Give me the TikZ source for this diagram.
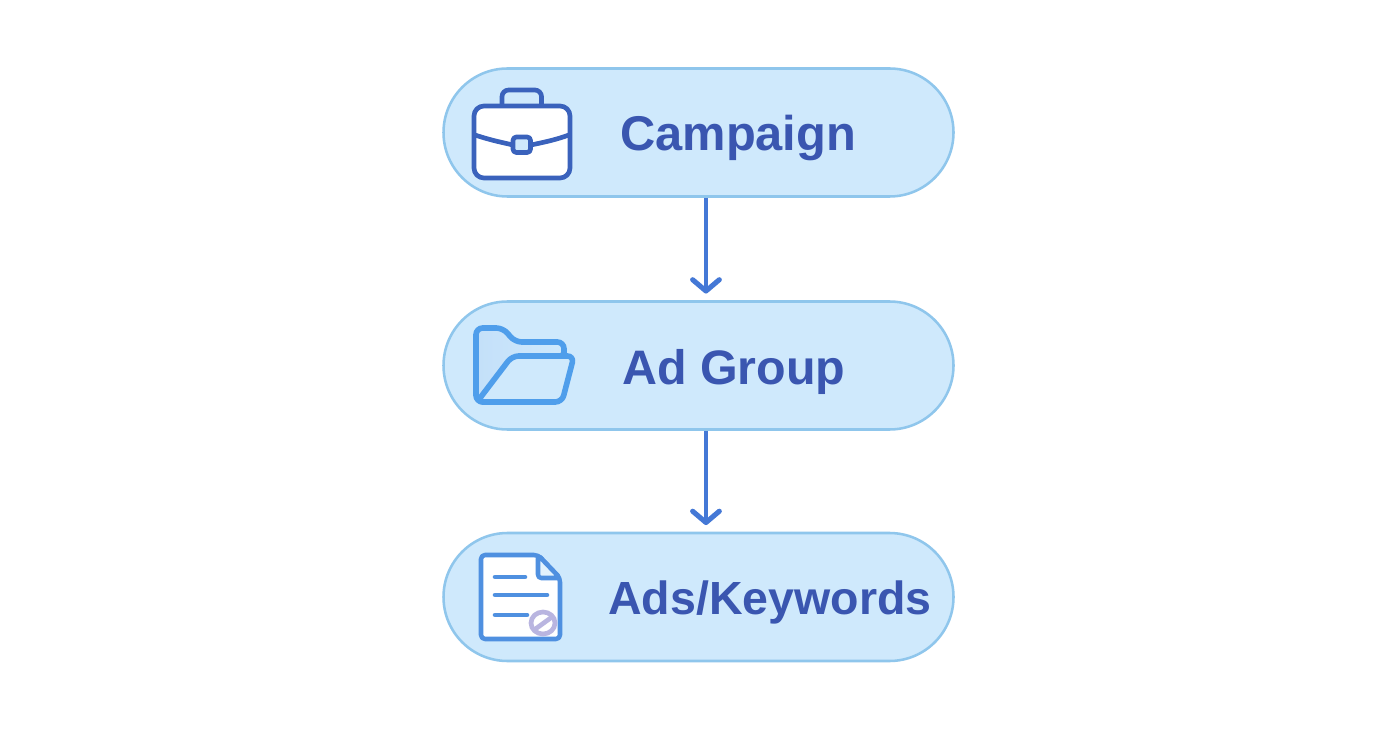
\documentclass[tikz,border=0pt]{standalone}
\usepackage{fontspec}
\setmainfont{Liberation Sans}
\usetikzlibrary{arrows.meta}
\definecolor{pillfill}{HTML}{CFE9FC}
\definecolor{pillline}{HTML}{8FC6EC}
\definecolor{labelcol}{HTML}{3A56B0}
\definecolor{arrowcol}{HTML}{4478D6}
\definecolor{casecol}{HTML}{3A62BC}
\definecolor{foldercol}{HTML}{4F9EEB}
\definecolor{doccol}{HTML}{4F90E0}
\definecolor{clipcol}{HTML}{B9B5E0}
\tikzset{
  pill/.style={draw=pillline,fill=pillfill,line width=1.9pt,rounded corners=48pt,minimum width=382.5pt,minimum height=96pt,inner sep=0pt},
  label/.style={anchor=base west,inner sep=0pt,text=labelcol,font=\bfseries},
  flow/.style={draw=arrowcol,line width=3.6pt,-{Straight Barb[length=8.5pt,width=20pt,line width=3.8pt,round]},shorten >=5pt},
  caseline/.style={draw=casecol,line width=3.5pt,line join=round},
  folderline/.style={draw=foldercol,line width=4.2pt,line join=round},
  docline/.style={draw=doccol,line width=3.4pt,line join=round},
  docrow/.style={draw=doccol,line width=3.4pt,line cap=round},
  clip ring/.style={draw=clipcol,line width=3.5pt}
}
\begin{document}
\begin{tikzpicture}[x=0.75pt,y=-0.75pt]
\useasboundingbox (0,0) rectangle (1392,752);
\fill[white] (0,0) rectangle (1392,752);
\node[pill] (campaign) at (698.5,132.5) {};
\node[pill] (adgroup) at (698.5,365.5) {};
\node[pill] (ads) at (698.5,597) {};
\draw[flow] ([xshift=5.6pt]campaign.south) -- ([xshift=5.6pt]adgroup.north);
\draw[flow] ([xshift=5.6pt]adgroup.south) -- ([xshift=5.6pt]ads.north);
\node[label,font=\bfseries\fontsize{36.6pt}{40pt}\selectfont] (t1) at (620,151) {Campaign};
\node[label,font=\bfseries\fontsize{36.3pt}{40pt}\selectfont] (t2) at (622,384) {Ad Group};
\node[label,font=\bfseries\fontsize{34.9pt}{40pt}\selectfont] (t3) at (608,614) {Ads/Keywords};
% briefcase
\draw[caseline,fill=pillfill,rounded corners=5pt] (502,106) -- (502,90) -- (541.5,90) -- (541.5,106);
\draw[caseline,fill=white,rounded corners=7.5pt] (474,106) rectangle (570,178);
\draw[caseline] (475,135) .. controls (490,140) and (500,142) .. (513,145);
\draw[caseline] (531,145) .. controls (545,142) and (555,140) .. (569,135);
\draw[caseline,fill=pillfill,rounded corners=2.5pt] (513,137) rectangle (530.5,152.5);
% folder
\fill[left color=pillfill!60!foldercol!60!white,right color=pillfill,rounded corners=5pt] (476,328) -- (503,328) -- (515,342) -- (560,342) -- (565,353) -- (512,356) -- (477,400) -- cycle;
\draw[folderline,rounded corners=5pt] (564,356) -- (564,342) -- (515,342) -- (503,328) -- (476,328) -- (476,402) -- (490,402);
\draw[folderline,fill=pillfill,rounded corners=5pt] (477,402) -- (512,356) -- (574,356) -- (562,402) -- cycle;
% document
\draw[docline,fill=white,rounded corners=3pt] (481,555) -- (538,555) -- (560,578) -- (560,639) -- (481,639) -- cycle;
\draw[docline,fill=pillfill!60!white,rounded corners=2.5pt] (538,555) -- (538,578) -- (560,578) -- cycle;
\draw[docrow] (495,577) -- (525,577);
\draw[docrow] (495,595) -- (547,595);
\draw[docrow] (495,615) -- (527,615);
\draw[clip ring] (543,623) ellipse [x radius=12,y radius=11];
\draw[clip ring] (534,630) -- (552,617);
\end{tikzpicture}
\end{document}
